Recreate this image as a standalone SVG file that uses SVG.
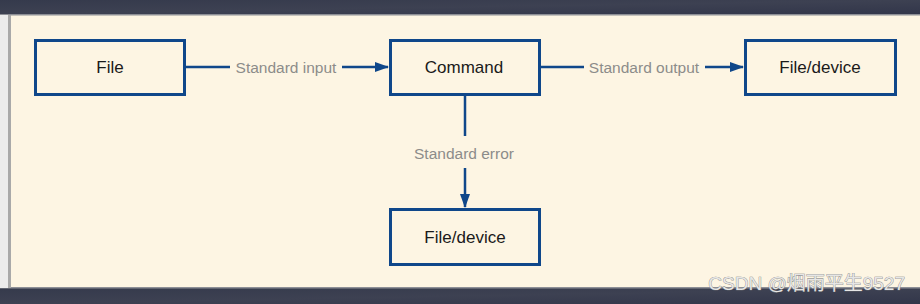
<svg xmlns="http://www.w3.org/2000/svg" width="920" height="304" viewBox="0 0 920 304">
<defs>
<style>
.box{fill:none;stroke:#0f478a;stroke-width:3}
.lbl{font-family:"Liberation Sans",Arial,sans-serif;font-size:17px;fill:#1a1a1a;text-anchor:middle}
.edge{font-family:"Liberation Sans",Arial,sans-serif;font-size:15.5px;fill:#8c8c8a;text-anchor:middle}
.ln{stroke:#0f478a;stroke-width:2.5;fill:none}
</style>
<marker id="arr" markerWidth="14" markerHeight="10" refX="13" refY="5" orient="auto" markerUnits="userSpaceOnUse" viewBox="0 0 14 10">
<path d="M0,0 L14,5 L0,10 Z" fill="#0f478a"/>
</marker>
<linearGradient id="dark" x1="0" y1="0" x2="1" y2="1">
<stop offset="0" stop-color="#353a4c"/>
<stop offset="0.5" stop-color="#3d4152"/>
<stop offset="1" stop-color="#32364a"/>
</linearGradient>
</defs>
<rect x="0" y="0" width="920" height="304" fill="#fdf5e3"/>
<rect x="0" y="0" width="920" height="14" fill="url(#dark)"/>
<rect x="0" y="14" width="920" height="1.5" fill="#8d8f96"/>
<rect x="0" y="288" width="920" height="16" fill="url(#dark)"/>
<rect x="0" y="287" width="920" height="1.5" fill="#8d8f96"/>
<rect x="0" y="15" width="8" height="273" fill="#ececec"/>
<rect x="8" y="15" width="3" height="273" fill="#a9a9a9"/>

<g id="connectors">
<line class="ln" x1="185" y1="67" x2="230" y2="67"/>
<line class="ln" x1="342" y1="67" x2="388" y2="67" marker-end="url(#arr)"/>
<text class="edge" x="286" y="72.5">Standard input</text>
<line class="ln" x1="541" y1="67" x2="584" y2="67"/>
<line class="ln" x1="705" y1="67" x2="743" y2="67" marker-end="url(#arr)"/>
<text class="edge" x="644" y="72.5">Standard output</text>
<line class="ln" x1="465" y1="95" x2="465" y2="136"/>
<line class="ln" x1="465" y1="168" x2="465" y2="207" marker-end="url(#arr)"/>
<text class="edge" x="464" y="158.5">Standard error</text>
</g>

<g id="file">
<rect class="box" x="35.5" y="40.5" width="149" height="54"/>
<text class="lbl" x="110" y="73">File</text>
</g>
<g id="command">
<rect class="box" x="390.5" y="40.5" width="149" height="54"/>
<text class="lbl" x="464" y="73">Command</text>
</g>
<g id="file-device-out">
<rect class="box" x="745.5" y="40.5" width="150" height="54"/>
<text class="lbl" x="820" y="73">File/device</text>
</g>
<g id="file-device-err">
<rect class="box" x="390.5" y="209.5" width="149" height="55"/>
<text class="lbl" x="465" y="243">File/device</text>
</g>

<text x="905" y="290" text-anchor="end" font-family="'Liberation Sans','Noto Sans CJK SC',sans-serif" font-size="19" fill="#e6e6e6" stroke="#7a7a7a" stroke-width="0.7" paint-order="stroke">CSDN @烟雨平生9527</text>
</svg>
